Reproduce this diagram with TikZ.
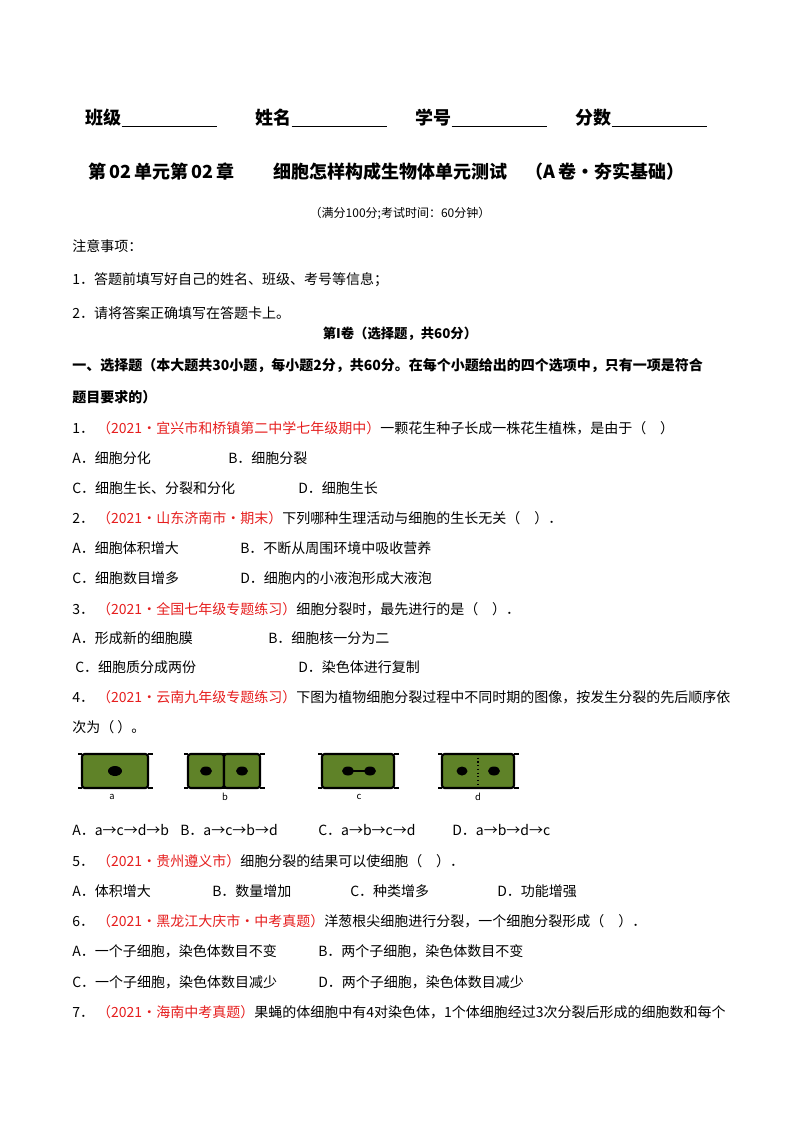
\documentclass[tikz,border=0pt]{standalone}
\usepackage{fontspec}
\setmainfont{Noto Sans CJK SC}
\usetikzlibrary{positioning}
\definecolor{srcred}{RGB}{230,30,30}
\definecolor{cellgreen}{RGB}{95,130,40}
\tikzset{
  txt/.style={anchor=west, inner sep=0pt, font=\fontsize{10.5pt}{12pt}\selectfont}, % body text
  bold/.style={txt, font=\fontsize{12pt}{14pt}\selectfont\bfseries},
  head/.style={txt, font=\fontsize{13.5pt}{16pt}\selectfont\bfseries},
  wall/.style={line width=1.6pt, black, rounded corners=2pt},
}
\newcommand{\src}[1]{\textcolor{srcred}{#1}}
% one cell: left x, width
\newcommand{\drawcell}[2]{%
  \fill[cellgreen] (#1,754) rectangle ++(#2,34);
  \draw[wall] (#1,754) rectangle ++(#2,34);
  \draw[line width=1.2pt] (#1-4,754) -- ++(4,0) (#1-4,788) -- ++(4,0)
    (#1+#2,754) -- ++(5,0) (#1+#2,788) -- ++(5,0);
}
\begin{document}
\begin{tikzpicture}[x=0.75pt,y=-0.75pt]
  \useasboundingbox[fill=white] (0,0) rectangle (800,1132);

  % header
  \node[head] (cls) at (85,118) {班级};
  \draw[thick] (cls.south east) -- ++(95,0);
  \node[head] (nm) at (255,118) {姓名};
  \draw[thick] (nm.south east) -- ++(95,0);
  \node[head] (no) at (415,118) {学号};
  \draw[thick] (no.south east) -- ++(95,0);
  \node[head] (sc) at (575,118) {分数};
  \draw[thick] (sc.south east) -- ++(95,0);

  \node[head] (title) at (88,172) {第\,02\,单元第\,02\,章\hspace{2.2em}细胞怎样构成生物体单元测试\hspace{1em}（A\,卷·夯实基础）};
  \node[txt, anchor=center, font=\fontsize{9pt}{11pt}\selectfont] (full) at (400,213) {（满分100分;考试时间：60分钟）};
  \node[txt] (note) at (72,246) {注意事项：};
  \node[txt] (n1) at (72,280) {1．答题前填写好自己的姓名、班级、考号等信息；};
  \node[txt] (n2) at (72,313) {2．请将答案正确填写在答题卡上。};
  \node[bold, anchor=center, font=\fontsize{10pt}{12pt}\selectfont\bfseries] (vol) at (400,334) {第I卷（选择题，共60分）};
  \node[bold, font=\fontsize{10.5pt}{12pt}\selectfont\bfseries] (sec) at (72,366) {一、选择题（本大题共30小题，每小题2分，共60分。在每个小题给出的四个选项中，只有一项是符合};
  \node[bold, font=\fontsize{10.5pt}{12pt}\selectfont\bfseries] (sec2) at (72,397) {题目要求的）};

  % question 1
  \node[txt] (q1) at (72,428) {1．\ \src{（2021·宜兴市和桥镇第二中学七年级期中）}一颗花生种子长成一株花生植株，是由于（\quad ）};
  \node[txt] (q1a) at (72,458) {A．细胞分化};
  \node[txt] (q1b) at (228,458) {B．细胞分裂};
  \node[txt] (q1c) at (72,488) {C．细胞生长、分裂和分化};
  \node[txt] (q1d) at (298,488) {D．细胞生长};
  % question 2
  \node[txt] (q2) at (72,518) {2．\ \src{（2021·山东济南市·期末）}下列哪种生理活动与细胞的生长无关（\quad ）．};
  \node[txt] (q2a) at (72,548) {A．细胞体积增大};
  \node[txt] (q2b) at (240,548) {B．不断从周围环境中吸收营养};
  \node[txt] (q2c) at (72,578) {C．细胞数目增多};
  \node[txt] (q2d) at (240,578) {D．细胞内的小液泡形成大液泡};
  % question 3
  \node[txt] (q3) at (72,609) {3．\ \src{（2021·全国七年级专题练习）}细胞分裂时，最先进行的是（\quad ）．};
  \node[txt] (q3a) at (72,638) {A．形成新的细胞膜};
  \node[txt] (q3b) at (268,638) {B．细胞核一分为二};
  \node[txt] (q3c) at (75,667) {C．细胞质分成两份};
  \node[txt] (q3d) at (298,667) {D．染色体进行复制};
  % question 4
  \node[txt] (q4) at (72,697) {4．\ \src{（2021·云南九年级专题练习）}下图为植物细胞分裂过程中不同时期的图像，按发生分裂的先后顺序依};
  \node[txt] (q4b) at (72,727) {次为（\ ）。};
  \drawcell{82}{66}
  \fill (115,771) ellipse (7 and 5);
  \drawcell{188}{36}
  \drawcell{224}{36}
  \fill (206,771) ellipse (6 and 4.5) (242,771) ellipse (6 and 4.5);
  \drawcell{322}{72}
  \fill (348,771) ellipse (6 and 4.5) (370,771) ellipse (6 and 4.5);
  \draw[line width=2pt] (348,771) -- (370,771);
  \drawcell{442}{72}
  \draw[dotted, thick] (478,754) -- (478,788);
  \fill (462,771) ellipse (5.5 and 4.5) (494,771) ellipse (6 and 4.5);
  \node[txt, anchor=center, font=\scriptsize] (la) at (112,797) {a};
  \node[txt, anchor=center, font=\scriptsize] (lb) at (225,797) {b};
  \node[txt, anchor=center, font=\scriptsize] (lc) at (359,797) {c};
  \node[txt, anchor=center, font=\scriptsize] (ld) at (478,797) {d};
  \node[txt] (q4oa) at (72,830) {A．a→c→d→b};
  \node[txt] (q4ob) at (180,830) {B．a→c→b→d};
  \node[txt] (q4oc) at (318,830) {C．a→b→c→d};
  \node[txt] (q4od) at (452,830) {D．a→b→d→c};
  % question 5
  \node[txt] (q5) at (72,861) {5．\ \src{（2021·贵州遵义市）}细胞分裂的结果可以使细胞（\quad ）．};
  \node[txt] (q5a) at (72,891) {A．体积增大};
  \node[txt] (q5b) at (212,891) {B．数量增加};
  \node[txt] (q5c) at (350,891) {C．种类增多};
  \node[txt] (q5d) at (497,891) {D．功能增强};
  % question 6
  \node[txt] (q6) at (72,921) {6．\ \src{（2021·黑龙江大庆市·中考真题）}洋葱根尖细胞进行分裂，一个细胞分裂形成（\quad ）．};
  \node[txt] (q6a) at (72,951) {A．一个子细胞，染色体数目不变};
  \node[txt] (q6b) at (318,951) {B．两个子细胞，染色体数目不变};
  \node[txt] (q6c) at (72,982) {C．一个子细胞，染色体数目减少};
  \node[txt] (q6d) at (318,982) {D．两个子细胞，染色体数目减少};
  % question 7
  \node[txt] (q7) at (72,1012) {7．\ \src{（2021·海南中考真题）}果蝇的体细胞中有4对染色体，1个体细胞经过3次分裂后形成的细胞数和每个};
\end{tikzpicture}
\end{document}
